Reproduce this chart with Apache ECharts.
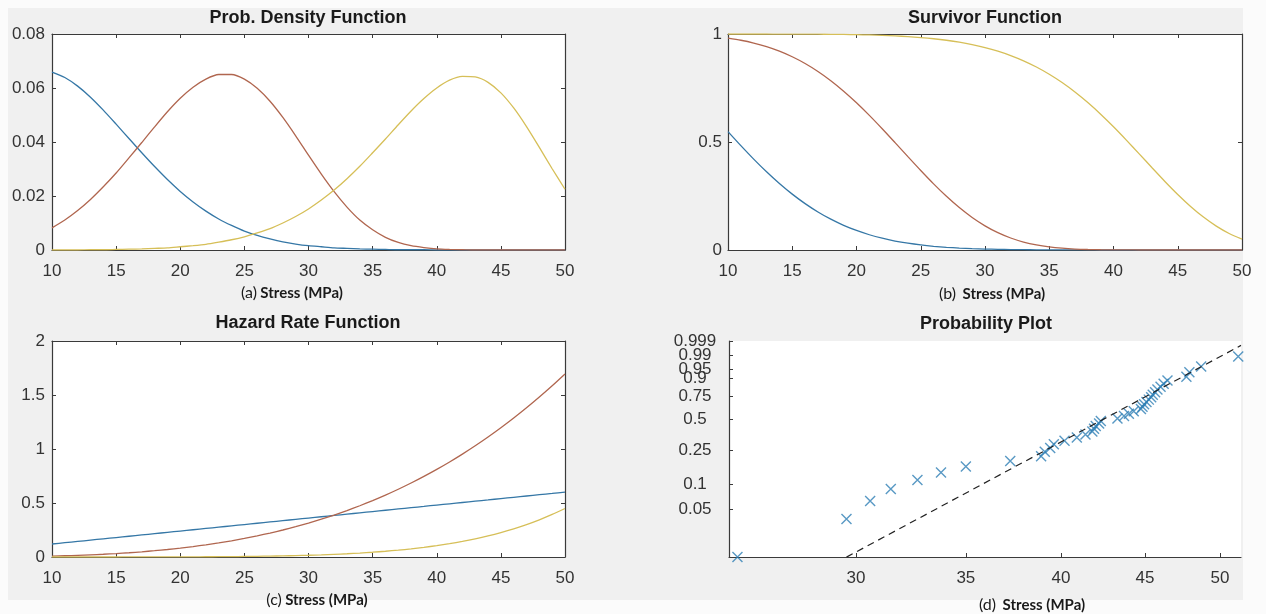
<!DOCTYPE html>
<html>
<head>
<meta charset="utf-8">
<script src="https://cdn.jsdelivr.net/npm/echarts@6/dist/echarts.min.js"></script>
<style>
html,body{margin:0;padding:0;background:#fbfbfb;}
#bg{position:absolute;left:8px;top:8px;width:1235px;height:592px;background:#f0f0f0;}
#c{position:absolute;left:0;top:0;width:1266px;height:614px;}
</style>
</head>
<body>
<div id="bg"></div>
<div id="c"></div>
<script>
// ---- data ----
const stress = [10,11,12,13,14,15,16,17,18,19,20,21,22,23,24,25,26,27,28,29,30,31,32,33,34,35,36,37,38,39,40,41,42,43,44,45,46,47,48,49,50];

const pdfBlue   = [0.0659,0.0639,0.0607,0.0566,0.0518,0.0466,0.0413,0.0360,0.0309,0.0261,0.0217,0.0178,0.0144,0.0115,0.0091,0.0070,0.0054,0.0041,0.0030,0.0022,
                   0.0016,0.0012,0.0008,0.0006,0.0004,0.0003,0.0002,0.0001,0.0001,0.0001,0,0,0,0,0,0,0,0,0,0,0];
const pdfRed    = [0.0082,0.0111,0.0146,0.0187,0.0234,0.0285,0.0341,0.0398,0.0456,0.0512,0.0562,0.0603,0.0633,0.0650,0.0650,0.0633,0.0599,0.0551,0.0491,0.0423,
                   0.0351,0.0281,0.0216,0.0159,0.0111,0.0075,0.0047,0.0028,0.0016,0.0009,0.0004,0.0002,0.0001,0,0,0,0,0,0,0,0];
const pdfYellow = [0,0,0,0.0001,0.0001,0.0002,0.0003,0.0004,0.0006,0.0008,0.0012,0.0016,0.0021,0.0029,0.0038,0.0049,0.0063,0.0079,0.0100,0.0124,
                   0.0152,0.0185,0.0222,0.0264,0.0310,0.0360,0.0411,0.0464,0.0515,0.0561,0.0600,0.0629,0.0643,0.0641,0.0621,0.0582,0.0526,0.0457,0.0380,0.0301,0.0225];

const survBlue   = [0.5483,0.4833,0.4209,0.3622,0.3080,0.2587,0.2147,0.1761,0.1427,0.1142,0.0904,0.0706,0.0546,0.0416,0.0314,0.0234,0.0172,0.0125,0.0090,0.0064,
                    0.0045,0.0031,0.0021,0.0014,0.0010,0.0006,0.0004,0.0003,0.0002,0.0001,0.0001,0,0,0,0,0,0,0,0,0,0];
const survRed    = [0.9807,0.9711,0.9583,0.9417,0.9207,0.8948,0.8635,0.8266,0.7839,0.7355,0.6818,0.6234,0.5615,0.4972,0.4321,0.3679,0.3061,0.2485,0.1963,0.1506,
                    0.1119,0.0803,0.0555,0.0369,0.0235,0.0143,0.0083,0.0045,0.0024,0.0012,0.0005,0.0002,0.0001,0,0,0,0,0,0,0,0];
const survYellow = [1,1,0.9999,0.9999,0.9998,0.9996,0.9994,0.9991,0.9986,0.9979,0.9969,0.9955,0.9937,0.9912,0.9879,0.9836,0.9781,0.9710,0.9621,0.9509,
                    0.9371,0.9203,0.9000,0.8758,0.8471,0.8136,0.7751,0.7313,0.6824,0.6286,0.5704,0.5088,0.4451,0.3807,0.3174,0.2571,0.2016,0.1523,0.1104,0.0763,0.0501];

const hazBlue   = [0.1202,0.1322,0.1442,0.1562,0.1683,0.1803,0.1923,0.2043,0.2163,0.2284,0.2404,0.2524,0.2644,0.2764,0.2885,0.3005,0.3125,0.3245,0.3365,0.3486,
                   0.3606,0.3726,0.3846,0.3966,0.4087,0.4207,0.4327,0.4447,0.4567,0.4687,0.4808,0.4928,0.5048,0.5168,0.5288,0.5409,0.5529,0.5649,0.5769,0.5889,0.6010];
const hazRed    = [0.0084,0.0115,0.0153,0.0199,0.0254,0.0319,0.0394,0.0482,0.0582,0.0695,0.0824,0.0968,0.1128,0.1306,0.1503,0.1720,0.1958,0.2217,0.2500,0.2807,
                   0.3139,0.3498,0.3885,0.4300,0.4745,0.5221,0.5729,0.6272,0.6849,0.7463,0.8112,0.8802,0.9529,1.0298,1.1110,1.1966,1.2867,1.3811,1.4806,1.5848,1.6941];
const hazYellow = [0,0,0,0.0001,0.0001,0.0002,0.0003,0.0004,0.0006,0.0008,0.0012,0.0016,0.0022,0.0029,0.0038,0.0050,0.0064,0.0082,0.0104,0.0130,
                   0.0162,0.0201,0.0247,0.0301,0.0366,0.0442,0.0531,0.0634,0.0754,0.0893,0.1053,0.1236,0.1446,0.1685,0.1956,0.2264,0.2611,0.3003,0.3444,0.3938,0.4490];

// probability plot (Weibull paper)
const probStress = [25.4,29.6,30.6,31.5,32.7,33.8,35.0,37.25,38.9,39.1,39.4,39.6,40.2,40.9,41.4,41.8,41.9,42.0,42.2,42.3,
                    43.3,43.7,44.0,44.3,44.75,44.85,44.95,45.1,45.25,45.4,45.5,45.65,45.8,46.0,46.2,46.45,47.7,47.9,48.7,51.3];
const probP = [0.0125,0.0375,0.0625,0.0875,0.1125,0.1375,0.1625,0.1875,0.2125,0.2375,0.2625,0.2875,0.3125,0.3375,0.3625,0.3875,0.4125,0.4375,0.4625,0.4875,
               0.5125,0.5375,0.5625,0.5875,0.6125,0.6375,0.6625,0.6875,0.7125,0.7375,0.7625,0.7875,0.8125,0.8375,0.8625,0.8875,0.9125,0.9375,0.9625,0.9875];
const refStress = [29.6, 51.5];
const refP = [0.01245, 0.9977];
const probTicks = [0.05,0.1,0.25,0.5,0.75,0.9,0.95,0.99,0.999];
const probTickLabels = ['0.05','0.1','0.25','0.5','0.75','0.9','0.95','0.99','0.999'];
const probXTicks = [30,35,40,45,50];
const probXMin = 25.1, probXMax = 51.5;

// ---- chart ----
const W = p => Math.log(-Math.log(1 - p));
const AX = '#3a3a3a', LBL = '#333333';
const FONT = '"Liberation Sans", Arial, Helvetica, sans-serif';
const C_BLUE = '#3577a6', C_RED = '#b0664f', C_YEL = '#d6bf58';

const grids = [
  {left:52,  top:34,  width:513, height:216},
  {left:728, top:34,  width:514, height:216},
  {left:52,  top:341, width:513, height:216},
  {left:729, top:341, width:512, height:216}
].map(g => Object.assign({show:true, backgroundColor:'#ffffff', borderWidth:0}, g));

function xAxis(gi, pos, labels) {
  return {gridIndex:gi, type:'value', position:pos, min:10, max:50, interval:5,
    axisLine:{show:true, onZero:false, lineStyle:{color:AX, width:1.2}},
    axisTick:{show:true, inside:true, length:4, lineStyle:{color:AX}},
    axisLabel:{show:labels, margin:13, color:LBL, fontSize:17, fontFamily:FONT},
    splitLine:{show:false}};
}
function yAxis(gi, pos, labels, max, interval, margin) {
  return {gridIndex:gi, type:'value', position:pos, min:0, max:max, interval:interval,
    axisLine:{show:true, onZero:false, lineStyle:{color:AX, width:1.2}},
    axisTick:{show:true, inside:true, length:4, lineStyle:{color:AX}},
    axisLabel:{show:labels, margin:margin, color:LBL, fontSize:17, fontFamily:FONT},
    splitLine:{show:false}};
}
function line(xi, yi, arr, color) {
  return {type:'line', xAxisIndex:xi, yAxisIndex:yi, data:stress.map((s,k)=>[s, arr[k]]),
    symbol:'none', showSymbol:false, smooth:0.25, lineStyle:{color:color, width:1.3}, itemStyle:{color:color}, silent:true};
}

// the crowded probability labels are split over two overlaid axes so none is dropped
const probTickW = probTicks.map(W);
const wMin = W(probP[0]), wMax = probTickW[probTickW.length-1] + 1e-6;
const labelOf = v => { for (let k=0;k<probTickW.length;k++) if (Math.abs(probTickW[k]-v) < 1e-4) return probTickLabels[k]; return ''; };
const setB = ['0.95','0.999'];
const wA = probTickW.filter((w,k) => setB.indexOf(probTickLabels[k]) < 0);
const wB = probTickW.filter((w,k) => setB.indexOf(probTickLabels[k]) >= 0);

function probY(showLine, values) {
  return {gridIndex:3, type:'value', position:'left', offset:0, min:wMin, max:wMax,
    axisLine:{show:showLine, onZero:false, lineStyle:{color:AX, width:1.2}},
    axisTick:{show:showLine, inside:true, length:4, lineStyle:{color:AX}, customValues:probTickW},
    axisLabel:{margin:34, align:'center', color:LBL, fontSize:17, fontFamily:FONT, customValues:values,
      showMaxLabel:true, showMinLabel:true, formatter:labelOf},
    splitLine:{show:false}};
}

const xAxes = [
  xAxis(0,'bottom',true), xAxis(0,'top',false),
  xAxis(1,'bottom',true), xAxis(1,'top',false),
  xAxis(2,'bottom',true), xAxis(2,'top',false),
  {gridIndex:3, type:'value', position:'bottom', min:Math.log(probXMin), max:Math.log(probXMax),
    axisLine:{show:true, onZero:false, lineStyle:{color:AX, width:1.2}},
    axisTick:{show:true, inside:true, length:4, lineStyle:{color:AX}, customValues:probXTicks.map(Math.log)},
    axisLabel:{margin:13, color:LBL, fontSize:17, fontFamily:FONT, customValues:probXTicks.map(Math.log),
      formatter: v => String(Math.round(Math.exp(v)))},
    splitLine:{show:false}}
];
const yAxes = [
  yAxis(0,'left',true,0.08,0.02,7), yAxis(0,'right',false,0.08,0.02,7),
  yAxis(1,'left',true,1,0.5,6),     yAxis(1,'right',false,1,0.5,6),
  yAxis(2,'left',true,2,0.5,7),     yAxis(2,'right',false,2,0.5,7),
  probY(true, wA),
  probY(false, wB)
];

const series = [
  line(0,0,pdfBlue,C_BLUE), line(0,0,pdfRed,C_RED), line(0,0,pdfYellow,C_YEL),
  line(2,2,survBlue,C_BLUE), line(2,2,survRed,C_RED), line(2,2,survYellow,C_YEL),
  line(4,4,hazBlue,C_BLUE), line(4,4,hazRed,C_RED), line(4,4,hazYellow,C_YEL),
  {type:'line', xAxisIndex:6, yAxisIndex:6, data:refStress.map((s,k)=>[Math.log(s), W(refP[k])]),
    symbol:'none', showSymbol:false, lineStyle:{color:'#222', width:1.2, type:[7,5]}, silent:true},
  {type:'scatter', xAxisIndex:6, yAxisIndex:6, data:probStress.map((s,k)=>[Math.log(s), W(probP[k])]),
    symbol:'path://M0,0L10,10M10,0L0,10', symbolSize:10, clip:false, silent:true,
    itemStyle:{color:'rgba(0,0,0,0)', borderColor:'#2f7fb5', borderWidth:1.4}}
];

function title(x, y, text) {
  return {type:'text', x:x, y:y, z:10, style:{text:text, font:'bold 18px ' + FONT, fill:'#1a1a1a', align:'center', verticalAlign:'middle'}};
}
function xname(x, y, tag, sep) {
  return {type:'text', x:x, y:y, z:10, style:{text:'{a|' + tag + '}' + sep + '{b|Stress (MPa)}', align:'center', verticalAlign:'middle', fill:'#1a1a1a',
    rich:{a:{fontFamily:'Lato, "Open Sans", sans-serif', fontSize:16, fill:'#1a1a1a'},
          b:{fontFamily:'Lato, "Open Sans", sans-serif', fontSize:15, fontWeight:'bold', fill:'#1a1a1a'}}}};
}

const chart = echarts.init(document.getElementById('c'), null, {renderer:'canvas'});
chart.setOption({
  animation:false,
  backgroundColor:'transparent',
  grid:grids, xAxis:xAxes, yAxis:yAxes, series:series,
  graphic:[
    title(308,18,'Prob. Density Function'),
    title(985,18,'Survivor Function'),
    title(308,323,'Hazard Rate Function'),
    title(986,324,'Probability Plot'),
    xname(292,293,'(a)',' '),
    xname(992,294,'(b)','  '),
    xname(317,600,'(c)',' '),
    xname(1032,605,'(d)','  ')
  ]
});
</script>
</body>
</html>
